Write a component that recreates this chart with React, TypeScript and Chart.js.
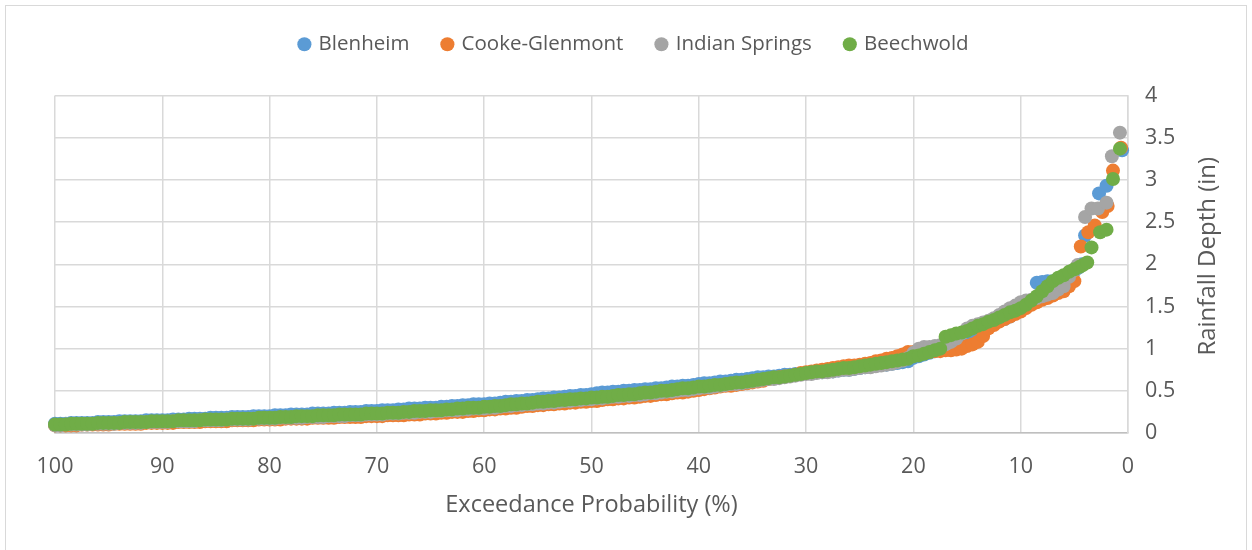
import React, { useEffect, useRef } from "react";
import { Chart, registerables } from "chart.js";

Chart.register(...registerables);

// Exceedance probability (%) for the dense part of each curve
const probs = [
  100, 99.5, 99, 98.5, 98, 97.5, 97, 96.5, 96, 95.5,
  95, 94.5, 94, 93.5, 93, 92.5, 92, 91.5, 91, 90.5,
  90, 89.5, 89, 88.5, 88, 87.5, 87, 86.5, 86, 85.5,
  85, 84.5, 84, 83.5, 83, 82.5, 82, 81.5, 81, 80.5,
  80, 79.5, 79, 78.5, 78, 77.5, 77, 76.5, 76, 75.5,
  75, 74.5, 74, 73.5, 73, 72.5, 72, 71.5, 71, 70.5,
  70, 69.5, 69, 68.5, 68, 67.5, 67, 66.5, 66, 65.5,
  65, 64.5, 64, 63.5, 63, 62.5, 62, 61.5, 61, 60.5,
  60, 59.5, 59, 58.5, 58, 57.5, 57, 56.5, 56, 55.5,
  55, 54.5, 54, 53.5, 53, 52.5, 52, 51.5, 51, 50.5,
  50, 49.5, 49, 48.5, 48, 47.5, 47, 46.5, 46, 45.5,
  45, 44.5, 44, 43.5, 43, 42.5, 42, 41.5, 41, 40.5,
  40, 39.5, 39, 38.5, 38, 37.5, 37, 36.5, 36, 35.5,
  35, 34.5, 34, 33.5, 33, 32.5, 32, 31.5, 31, 30.5,
  30, 29.5, 29, 28.5, 28, 27.5, 27, 26.5, 26, 25.5,
  25, 24.5, 24, 23.5, 23, 22.5, 22, 21.5, 21, 20.5,
  20, 19.5, 19, 18.5, 18, 17.5, 17, 16.5, 16, 15.5,
  15, 14.5, 14, 13.5, 13, 12.5, 12, 11.5, 11, 10.5,
  10,
];

// Rainfall depth (in) at each of the probs above
const blenheimDense = [
  0.11, 0.11, 0.11, 0.12, 0.12, 0.12, 0.12, 0.12, 0.13, 0.13,
  0.13, 0.13, 0.14, 0.14, 0.14, 0.14, 0.14, 0.15, 0.15, 0.15,
  0.15, 0.15, 0.16, 0.16, 0.16, 0.17, 0.17, 0.17, 0.17, 0.18,
  0.18, 0.18, 0.18, 0.19, 0.19, 0.19, 0.19, 0.2, 0.2, 0.2,
  0.2, 0.21, 0.21, 0.21, 0.22, 0.22, 0.22, 0.22, 0.23, 0.23,
  0.23, 0.23, 0.24, 0.24, 0.24, 0.25, 0.25, 0.25, 0.26, 0.26,
  0.26, 0.27, 0.27, 0.27, 0.28, 0.28, 0.29, 0.29, 0.29, 0.3,
  0.3, 0.3, 0.31, 0.31, 0.32, 0.32, 0.33, 0.33, 0.34, 0.34,
  0.34, 0.35, 0.35, 0.36, 0.37, 0.37, 0.38, 0.38, 0.39, 0.39,
  0.4, 0.41, 0.41, 0.42, 0.42, 0.43, 0.44, 0.44, 0.45, 0.45,
  0.46, 0.47, 0.48, 0.48, 0.49, 0.49, 0.5, 0.5, 0.51, 0.51,
  0.52, 0.52, 0.53, 0.53, 0.54, 0.55, 0.55, 0.56, 0.56, 0.57,
  0.58, 0.59, 0.59, 0.6, 0.61, 0.61, 0.62, 0.63, 0.63, 0.64,
  0.65, 0.66, 0.66, 0.67, 0.67, 0.68, 0.69, 0.69, 0.7, 0.7,
  0.71, 0.71, 0.72, 0.72, 0.73, 0.73, 0.74, 0.75, 0.75, 0.76,
  0.77, 0.78, 0.79, 0.8, 0.81, 0.81, 0.82, 0.83, 0.84, 0.85,
  0.89, 0.91, 0.93, 0.95, 0.97, 1.0, 1.03, 1.06, 1.1, 1.13,
  1.16, 1.19, 1.22, 1.26, 1.29, 1.31, 1.33, 1.35, 1.38, 1.42,
  1.46,
];

const cookeDense = [
  0.09, 0.09, 0.09, 0.09, 0.09, 0.1, 0.1, 0.1, 0.1, 0.1,
  0.1, 0.11, 0.11, 0.11, 0.11, 0.11, 0.11, 0.12, 0.12, 0.12,
  0.12, 0.12, 0.12, 0.13, 0.13, 0.13, 0.13, 0.13, 0.14, 0.14,
  0.14, 0.14, 0.14, 0.15, 0.15, 0.15, 0.15, 0.15, 0.16, 0.16,
  0.16, 0.16, 0.16, 0.17, 0.17, 0.17, 0.17, 0.17, 0.18, 0.18,
  0.18, 0.18, 0.18, 0.19, 0.19, 0.19, 0.19, 0.19, 0.2, 0.2,
  0.2, 0.2, 0.21, 0.21, 0.21, 0.21, 0.22, 0.22, 0.22, 0.23,
  0.23, 0.23, 0.24, 0.24, 0.25, 0.25, 0.25, 0.26, 0.26, 0.27,
  0.27, 0.28, 0.28, 0.29, 0.29, 0.3, 0.3, 0.31, 0.32, 0.32,
  0.33, 0.33, 0.34, 0.34, 0.35, 0.35, 0.36, 0.36, 0.37, 0.37,
  0.38, 0.38, 0.39, 0.4, 0.4, 0.41, 0.41, 0.42, 0.42, 0.43,
  0.44, 0.44, 0.45, 0.46, 0.46, 0.47, 0.48, 0.48, 0.49, 0.5,
  0.51, 0.52, 0.53, 0.54, 0.55, 0.56, 0.56, 0.57, 0.58, 0.59,
  0.6, 0.61, 0.62, 0.64, 0.65, 0.66, 0.67, 0.68, 0.69, 0.71,
  0.72, 0.73, 0.74, 0.75, 0.76, 0.77, 0.78, 0.79, 0.8, 0.8,
  0.81, 0.82, 0.83, 0.85, 0.86, 0.88, 0.89, 0.91, 0.93, 0.96,
  0.96, 0.96, 0.96, 0.96, 0.97, 0.97, 0.98, 0.98, 0.99, 1.0,
  1.03, 1.05, 1.08, 1.15, 1.24, 1.28, 1.32, 1.35, 1.38, 1.41,
  1.44,
];

const indianDense = [
  0.09, 0.09, 0.1, 0.1, 0.1, 0.1, 0.1, 0.11, 0.11, 0.11,
  0.11, 0.11, 0.12, 0.12, 0.12, 0.12, 0.12, 0.13, 0.13, 0.13,
  0.13, 0.13, 0.14, 0.14, 0.14, 0.14, 0.14, 0.15, 0.15, 0.15,
  0.15, 0.15, 0.16, 0.16, 0.16, 0.16, 0.16, 0.17, 0.17, 0.17,
  0.17, 0.17, 0.18, 0.18, 0.18, 0.18, 0.18, 0.19, 0.19, 0.19,
  0.19, 0.2, 0.2, 0.2, 0.2, 0.21, 0.21, 0.21, 0.22, 0.22,
  0.22, 0.22, 0.23, 0.23, 0.23, 0.24, 0.24, 0.24, 0.25, 0.25,
  0.25, 0.26, 0.26, 0.27, 0.27, 0.27, 0.28, 0.28, 0.29, 0.29,
  0.29, 0.3, 0.3, 0.31, 0.32, 0.32, 0.33, 0.33, 0.34, 0.34,
  0.35, 0.35, 0.36, 0.36, 0.37, 0.38, 0.38, 0.39, 0.39, 0.4,
  0.4, 0.41, 0.41, 0.42, 0.43, 0.43, 0.44, 0.44, 0.45, 0.45,
  0.46, 0.47, 0.47, 0.48, 0.49, 0.49, 0.5, 0.51, 0.51, 0.52,
  0.53, 0.54, 0.54, 0.55, 0.56, 0.57, 0.58, 0.58, 0.59, 0.6,
  0.61, 0.62, 0.63, 0.64, 0.64, 0.65, 0.66, 0.67, 0.68, 0.69,
  0.7, 0.7, 0.71, 0.72, 0.72, 0.73, 0.74, 0.75, 0.75, 0.76,
  0.77, 0.78, 0.78, 0.79, 0.8, 0.81, 0.82, 0.84, 0.86, 0.89,
  0.95, 1.0, 1.02, 1.02, 1.03, 1.04, 1.05, 1.08, 1.12, 1.18,
  1.24, 1.27, 1.29, 1.31, 1.33, 1.36, 1.4, 1.44, 1.48, 1.51,
  1.55,
];

const beechwoldDense = [
  0.1, 0.1, 0.1, 0.11, 0.11, 0.11, 0.11, 0.11, 0.12, 0.12,
  0.12, 0.12, 0.12, 0.13, 0.13, 0.13, 0.13, 0.13, 0.14, 0.14,
  0.14, 0.14, 0.14, 0.15, 0.15, 0.15, 0.15, 0.15, 0.16, 0.16,
  0.16, 0.16, 0.16, 0.17, 0.17, 0.17, 0.17, 0.17, 0.18, 0.18,
  0.18, 0.18, 0.19, 0.19, 0.19, 0.2, 0.2, 0.2, 0.2, 0.21,
  0.21, 0.21, 0.21, 0.22, 0.22, 0.22, 0.22, 0.22, 0.23, 0.23,
  0.23, 0.23, 0.24, 0.24, 0.24, 0.25, 0.25, 0.26, 0.26, 0.26,
  0.27, 0.27, 0.27, 0.28, 0.28, 0.29, 0.29, 0.3, 0.3, 0.3,
  0.31, 0.31, 0.32, 0.32, 0.33, 0.34, 0.34, 0.35, 0.35, 0.36,
  0.37, 0.37, 0.38, 0.38, 0.39, 0.39, 0.4, 0.4, 0.41, 0.41,
  0.42, 0.42, 0.43, 0.43, 0.44, 0.45, 0.45, 0.46, 0.46, 0.47,
  0.48, 0.48, 0.49, 0.5, 0.5, 0.51, 0.52, 0.53, 0.53, 0.54,
  0.55, 0.55, 0.56, 0.57, 0.57, 0.58, 0.59, 0.6, 0.6, 0.61,
  0.62, 0.63, 0.64, 0.65, 0.66, 0.66, 0.67, 0.68, 0.69, 0.7,
  0.71, 0.72, 0.73, 0.73, 0.74, 0.75, 0.76, 0.77, 0.77, 0.78,
  0.79, 0.8, 0.81, 0.82, 0.83, 0.84, 0.85, 0.86, 0.87, 0.88,
  0.91, 0.92, 0.94, 0.96, 0.98, 1.0, 1.14, 1.16, 1.18, 1.19,
  1.21, 1.24, 1.27, 1.29, 1.32, 1.34, 1.37, 1.4, 1.43, 1.45,
  1.48,
];

// Upper tail (rarest events): exceedance probability and depth
const blenheimTailP = [9.5, 9, 8.5, 8, 7.5, 7, 6.5, 6, 5.5, 5, 4.6, 4.3, 4.0, 2.7, 2.0, 0.55];
const blenheimTailD = [1.5, 1.55, 1.78, 1.79, 1.8, 1.8, 1.82, 1.85, 1.88, 1.92, 1.96, 2.0, 2.34, 2.84, 2.93, 3.35];

const cookeTailP = [9.5, 9, 8.5, 8, 7.5, 7, 6.5, 6, 5.5, 5, 4.4, 3.7, 3.1, 2.4, 1.9, 1.4, 0.65];
const cookeTailD = [1.48, 1.52, 1.55, 1.58, 1.6, 1.63, 1.66, 1.68, 1.74, 1.8, 2.21, 2.38, 2.46, 2.62, 2.69, 3.11, 3.38];

const indianTailP = [9.5, 9, 8.5, 8, 7.5, 7, 6.5, 6, 5.5, 5, 4.7, 4.0, 3.4, 2.8, 2.0, 1.5, 0.75];
const indianTailD = [1.57, 1.58, 1.6, 1.62, 1.64, 1.66, 1.7, 1.74, 1.85, 1.93, 1.99, 2.56, 2.66, 2.66, 2.73, 3.28, 3.56];

const beechwoldTailP = [9.5, 9, 8.5, 8, 7.5, 7, 6.5, 6, 5.5, 5, 4.5, 4.2, 3.8, 3.4, 2.6, 2.0, 1.4, 0.75];
const beechwoldTailD = [1.52, 1.57, 1.62, 1.68, 1.74, 1.8, 1.84, 1.87, 1.91, 1.94, 1.97, 1.99, 2.02, 2.2, 2.38, 2.41, 3.01, 3.37];

const seriesNames = ["Blenheim", "Cooke-Glenmont", "Indian Springs", "Beechwold"];
const seriesColors = ["#5B9BD5", "#ED7D31", "#A5A5A5", "#70AD47"];

const xTitle = "Exceedance Probability (%)";
const yTitle = "Rainfall Depth (in)";

const FONT = '"Open Sans", "Noto Sans", sans-serif';
const TEXT = "#595959";

function toPoints(dense: number[], tailP: number[], tailD: number[]) {
  const pts = probs.map((p, i) => ({ x: p, y: dense[i] }));
  return pts.concat(tailP.map((p, i) => ({ x: p, y: tailD[i] })));
}

export default function App() {
  const ref = useRef<HTMLCanvasElement | null>(null);

  useEffect(() => {
    document.body.style.margin = "0";
    const canvas = ref.current;
    if (!canvas) return;

    const all = [
      toPoints(blenheimDense, blenheimTailP, blenheimTailD),
      toPoints(cookeDense, cookeTailP, cookeTailD),
      toPoints(indianDense, indianTailP, indianTailD),
      toPoints(beechwoldDense, beechwoldTailP, beechwoldTailD),
    ];

    // Reverse so that Beechwold (drawn last in the original) sits on top
    const datasets = [3, 2, 1, 0].map((i) => ({
      label: seriesNames[i],
      data: all[i],
      backgroundColor: seriesColors[i],
      borderColor: seriesColors[i],
      borderWidth: 0,
      pointRadius: 7,
      pointHoverRadius: 7,
      clip: false as any,
    }));

    const legendSpacer = {
      id: "legendSpacer",
      beforeInit(chart: any) {
        const fit = chart.legend.fit;
        chart.legend.fit = function () {
          fit.call(this);
          this.height += 31;
        };
      },
      afterLayout(chart: any) {
        if (chart.legend) {
          chart.legend.left -= 19;
          chart.legend.right -= 19;
        }
      },
    };

    const frame = {
      id: "frame",
      beforeDraw(chart: any) {
        const { ctx } = chart;
        ctx.save();
        ctx.strokeStyle = "#d9d9d9";
        ctx.lineWidth = 1;
        ctx.strokeRect(5.5, 5.5, chart.width - 11, chart.height + 20);
        ctx.restore();
      },
    };

    const rightTitle = {
      id: "rightTitle",
      afterDraw(chart: any) {
        const { ctx, chartArea } = chart;
        ctx.save();
        ctx.font = `24px ${FONT}`;
        ctx.fillStyle = TEXT;
        ctx.textAlign = "center";
        ctx.textBaseline = "middle";
        ctx.translate(chartArea.right + 80, (chartArea.top + chartArea.bottom) / 2 - 8);
        ctx.rotate(-Math.PI / 2);
        ctx.fillText(yTitle, 0, 0);
        ctx.restore();
      },
    };

    const chart = new Chart(canvas, {
      type: "scatter",
      data: { datasets },
      plugins: [legendSpacer, frame, rightTitle],
      options: {
        responsive: false,
        animation: false,
        devicePixelRatio: 1,
        layout: { padding: { left: 55, right: 0, top: 0, bottom: 0 } },
        plugins: {
          legend: {
            display: true,
            position: "top",
            reverse: true,
            labels: {
              usePointStyle: true,
              pointStyle: "circle",
              boxWidth: 8,
              boxHeight: 10,
              padding: 34,
              color: TEXT,
              font: { family: FONT, size: 20.5 },
            },
          },
          tooltip: { enabled: false },
        },
        scales: {
          x: {
            type: "linear",
            position: "bottom",
            reverse: true,
            min: 0,
            max: 100,
            afterFit: (s: any) => {
              s.height = 117;
            },
            ticks: {
              stepSize: 10,
              color: TEXT,
              padding: 21,
              maxRotation: 0,
              font: { family: FONT, size: 21.5 },
              callback: (v: any) => String(+v),
            },
            grid: { color: "#d9d9d9", lineWidth: 1.5, drawTicks: false },
            border: { display: true, color: "#bfbfbf", width: 1.5 },
            title: {
              display: true,
              text: xTitle,
              color: TEXT,
              font: { family: FONT, size: 23.5 },
              padding: { top: 0, bottom: 31 },
            },
          },
          y: {
            type: "linear",
            position: "right",
            min: 0,
            max: 4,
            afterFit: (s: any) => {
              s.width = 124;
            },
            ticks: {
              stepSize: 0.5,
              color: TEXT,
              padding: 17,
              font: { family: FONT, size: 21.5 },
              callback: (v: any) => String(+v),
            },
            grid: { color: "#d9d9d9", lineWidth: 1.5, drawTicks: false },
            border: { display: true, color: "#d9d9d9", width: 1.5 },
          },
        },
      },
    });

    return () => chart.destroy();
  }, []);

  return (
    <div style={{ width: 1252, height: 550, position: "relative" }}>
      <canvas ref={ref} width={1252} height={550} />
    </div>
  );
}
